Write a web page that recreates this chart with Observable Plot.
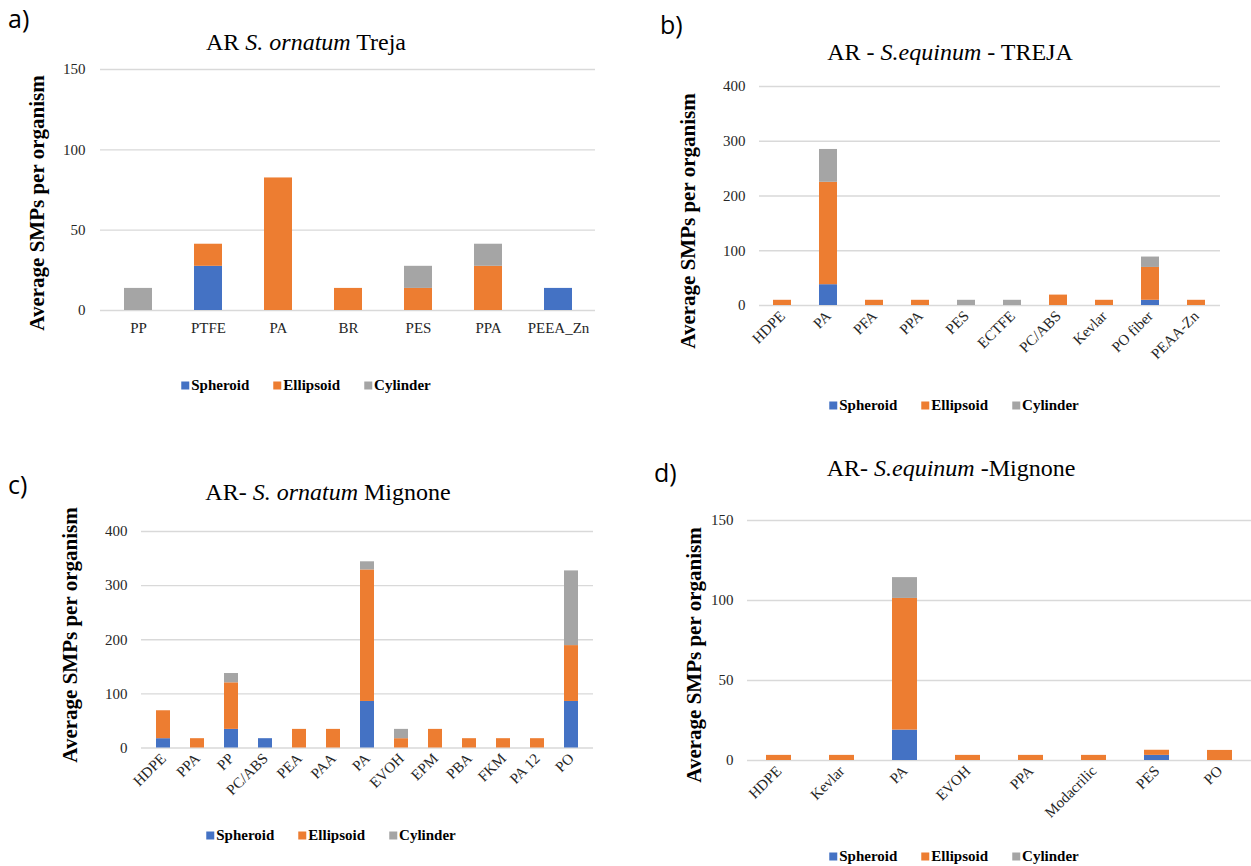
<!DOCTYPE html>
<html><head><meta charset="utf-8">
<script src="https://cdn.jsdelivr.net/npm/d3@7"></script>
<script src="https://cdn.jsdelivr.net/npm/@observablehq/plot@0.6"></script>
<style>
body{margin:0;background:#fff;}
#root{position:relative;width:1251px;height:866px;overflow:hidden;background:#fff;font-family:"Liberation Serif","Times New Roman",serif;color:#000;}
.abs{position:absolute;}
.plabel{font-family:"Open Sans",sans-serif;font-size:25px;line-height:1;}
.title{font-size:24px;white-space:nowrap;transform:translate(-50%,-50%);line-height:1;}
.ylab{font-weight:bold;font-size:21px;white-space:nowrap;transform:translate(-50%,-50%) rotate(-90deg);line-height:1;}
.legend{display:flex;gap:24px;transform:translate(-50%,-50%);font-weight:bold;font-size:15px;white-space:nowrap;line-height:1;align-items:center;}
.legend .sw{display:inline-block;width:8px;height:8px;margin-right:2px;}
</style></head>
<body><div id="root"></div>
<script>
const series = ["Spheroid", "Ellipsoid", "Cylinder"];
const colors = ["#4472C4", "#ED7D31", "#A5A5A5"];

// a) AR S. ornatum Treja
const catsA = ["PP", "PTFE", "PA", "BR", "PES", "PPA", "PEEA_Zn"];
const sphA = [0, 27.5, 0, 0, 0, 0, 13.75];
const ellA = [0, 13.75, 82.5, 13.75, 13.75, 27.5, 0];
const cylA = [13.75, 0, 0, 0, 13.75, 13.75, 0];
const ticksA = [0, 50, 100, 150];

// b) AR - S.equinum - TREJA
const catsB = ["HDPE", "PA", "PFA", "PPA", "PES", "ECTFE", "PC/ABS", "Kevlar", "PO fiber", "PEAA-Zn"];
const sphB = [0, 38, 0, 0, 0, 0, 0, 0, 9.5, 0];
const ellB = [9.5, 187, 9.5, 9.5, 0, 0, 19, 9.5, 60, 9.5];
const cylB = [0, 60, 0, 0, 9.5, 9.5, 0, 0, 19, 0];
const ticksB = [0, 100, 200, 300, 400];

// c) AR- S. ornatum Mignone
const catsC = ["HDPE", "PPA", "PP", "PC/ABS", "PEA", "PAA", "PA", "EVOH", "EPM", "PBA", "FKM", "PA 12", "PO"];
const sphC = [17.2, 0, 34.4, 17.2, 0, 0, 86, 0, 0, 0, 0, 0, 86];
const ellC = [51.6, 17.2, 86, 0, 34.4, 34.4, 243, 17.2, 34.4, 17.2, 17.2, 17.2, 103.2];
const cylC = [0, 0, 17.2, 0, 0, 0, 15, 17.2, 0, 0, 0, 0, 138];
const ticksC = [0, 100, 200, 300, 400];

// d) AR- S.equinum -Mignone
const catsD = ["HDPE", "Kevlar", "PA", "EVOH", "PPA", "Modacrilic", "PES", "PO"];
const sphD = [0, 0, 19, 0, 0, 0, 3.2, 0];
const ellD = [3.2, 3.2, 82.3, 3.2, 3.2, 3.2, 3.2, 6.3];
const cylD = [0, 0, 13, 0, 0, 0, 0, 0];
const ticksD = [0, 50, 100, 150];

const root = document.getElementById("root");

function addDiv(cls, left, top, html) {
  const d = document.createElement("div");
  d.className = "abs " + cls;
  d.style.left = left + "px";
  d.style.top = top + "px";
  d.innerHTML = html;
  root.appendChild(d);
  return d;
}

function panel(cfg) {
  const rows = [];
  cfg.cats.forEach((c, i) => {
    [cfg.sph, cfg.ell, cfg.cyl].forEach((arr, j) => rows.push({cat: c, series: series[j], value: arr[i]}));
  });
  const chart = Plot.plot({
    width: cfg.w, height: cfg.h,
    marginLeft: cfg.ml, marginRight: cfg.mr, marginTop: cfg.mt, marginBottom: cfg.mb,
    style: {fontFamily: "'Liberation Serif', 'Times New Roman', serif", fontSize: "15px", color: "#262626", background: "transparent", overflow: "visible"},
    x: {domain: cfg.cats, paddingInner: 0.6, paddingOuter: 0.3, label: null},
    y: {domain: [cfg.ticks[0], cfg.ticks[cfg.ticks.length - 1]], label: null},
    color: {domain: series, range: colors},
    marks: [
      Plot.gridY(cfg.ticks, {stroke: "#d9d9d9", strokeOpacity: 1, strokeWidth: 1.3}),
      Plot.barY(rows, {x: "cat", y: "value", fill: "series"}),
      Plot.axisY(cfg.ticks, {tickSize: 0, tickPadding: cfg.yPad, label: null}),
      Plot.axisX({tickSize: 0, tickPadding: cfg.rotate ? 8 : 12, tickRotate: cfg.rotate ? -45 : 0, label: null})
    ]
  });
  chart.style.position = "absolute";
  chart.style.left = cfg.left + "px";
  chart.style.top = cfg.top + "px";
  root.appendChild(chart);

  addDiv("plabel", cfg.lab[0], cfg.lab[1], cfg.labText);
  addDiv("title", cfg.title[0], cfg.title[1], cfg.titleHtml);
  addDiv("ylab", cfg.ylab[0], cfg.ylab[1], "Average SMPs per organism");
  addDiv("legend", cfg.leg[0], cfg.leg[1],
    series.map((s, i) => `<span><span class="sw" style="background:${colors[i]}"></span>${s}</span>`).join(""));
}

panel({cats: catsA, sph: sphA, ell: ellA, cyl: cylA, ticks: ticksA, rotate: false,
  left: 0, top: 0, w: 610, h: 370, ml: 100, mr: 15, mt: 69, mb: 60, yPad: 15,
  lab: [8, 6], labText: "a)", title: [306, 42],
  titleHtml: "AR <i>S. ornatum</i> Treja", ylab: [37, 203], leg: [306, 385]});

panel({cats: catsB, sph: sphB, ell: ellB, cyl: cylB, ticks: ticksB, rotate: true,
  left: 620, top: 0, w: 631, h: 440, ml: 139, mr: 31, mt: 86, mb: 135, yPad: 14,
  lab: [660, 12], labText: "b)", title: [950, 52],
  titleHtml: "AR - <i>S.equinum</i> - TREJA", ylab: [688, 221], leg: [954, 405]});

panel({cats: catsC, sph: sphC, ell: ellC, cyl: cylC, ticks: ticksC, rotate: true,
  left: 0, top: 420, w: 620, h: 420, ml: 141, mr: 27, mt: 111, mb: 92.5, yPad: 14,
  lab: [8, 472], labText: "c)", title: [328, 492],
  titleHtml: "AR- <i>S. ornatum</i> Mignone", ylab: [70, 635], leg: [331, 835]});

panel({cats: catsD, sph: sphD, ell: ellD, cyl: cylD, ticks: ticksD, rotate: true,
  left: 620, top: 440, w: 631, h: 426, ml: 127, mr: 0, mt: 80, mb: 106, yPad: 14,
  lab: [654, 460], labText: "d)", title: [951, 468],
  titleHtml: "AR- <i>S.equinum</i> -Mignone", ylab: [694, 655], leg: [954, 856]});
</script>
</body></html>
